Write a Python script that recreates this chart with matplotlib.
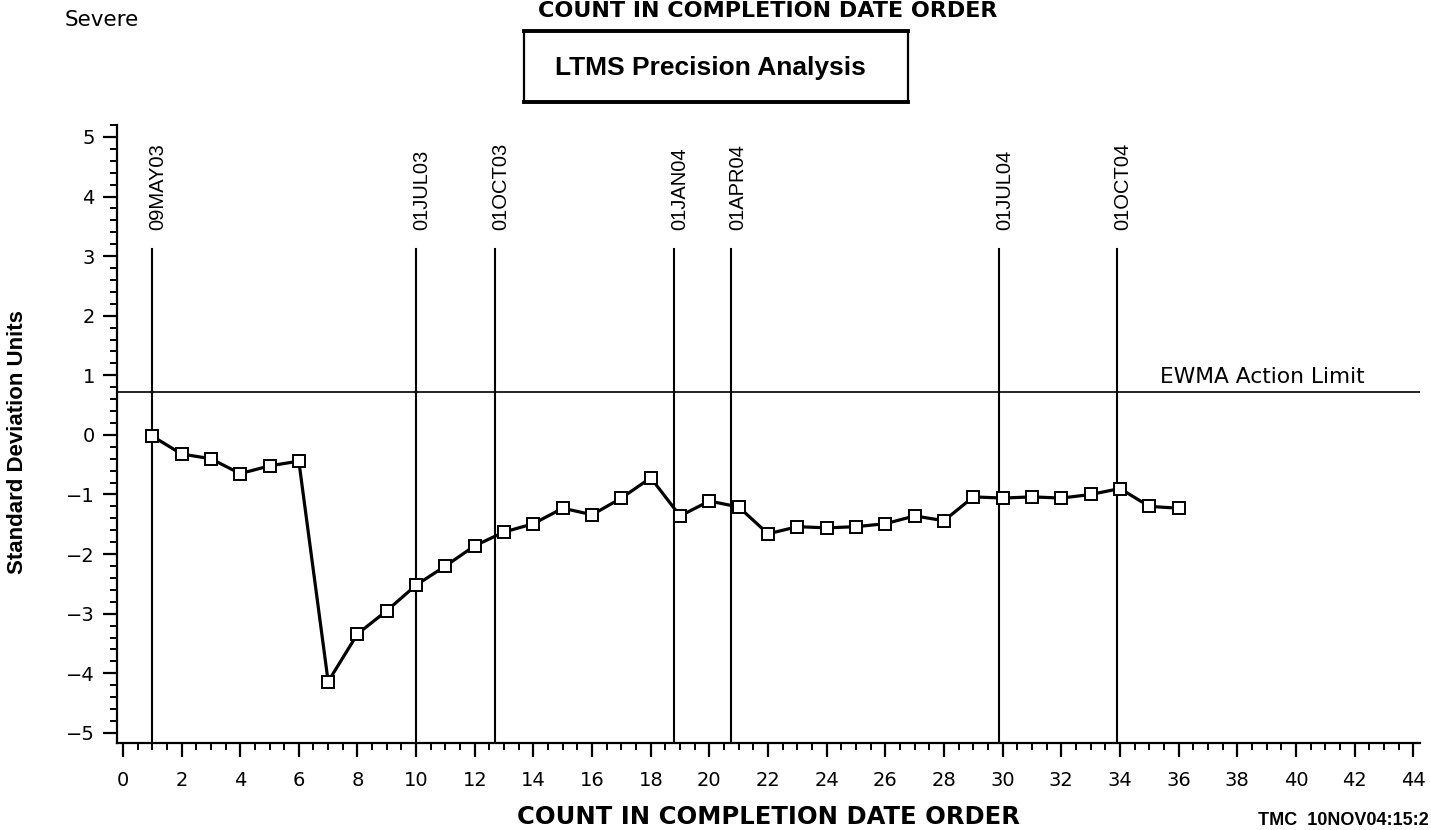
import matplotlib
matplotlib.use("Agg")
import matplotlib.pyplot as plt
from matplotlib.ticker import MultipleLocator
from matplotlib.patches import Rectangle
from matplotlib.lines import Line2D

# ---- data ----
counts = list(range(1, 37))
sd_units = [-0.02, -0.32, -0.40, -0.65, -0.52, -0.44, -4.14, -3.34, -2.95, -2.52,
            -2.20, -1.86, -1.63, -1.49, -1.23, -1.34, -1.06, -0.72, -1.36, -1.11,
            -1.21, -1.66, -1.54, -1.56, -1.54, -1.49, -1.36, -1.44, -1.04, -1.06,
            -1.04, -1.06, -1.00, -0.90, -1.20, -1.23]
date_labels = ["09MAY03", "01JUL03", "01OCT03", "01JAN04", "01APR04", "01JUL04", "01OCT04"]
date_positions = [1.0, 10.0, 12.7, 18.8, 20.75, 29.86, 33.9]
action_limit = 0.72
action_label = "EWMA Action Limit"

NARROW = ['Liberation Sans Narrow', 'Liberation Sans', 'DejaVu Sans']
BOLD = ['Liberation Sans', 'DejaVu Sans']
WIDEBOLD = ['DejaVu Sans']
plt.rcParams['font.family'] = ['DejaVu Sans']

W, H = 1431, 830
fig = plt.figure(figsize=(W / 100, H / 100), dpi=100)
ax = fig.add_axes([117 / W, (H - 743) / H, (1420 - 117) / W, (743 - 125) / H])

ax.set_xlim(-0.2, 44.23)
ax.set_ylim(-5.17, 5.2)

# date reference lines
for pos, lab in zip(date_positions, date_labels):
    ax.plot([pos, pos], [-5.17, 3.12], color='black', lw=1.5, zorder=2)
    ax.text(pos + 0.2, 3.44, lab, rotation=90, ha='center', va='bottom',
            family=NARROW, fontsize=14.5)

# action limit
ax.axhline(action_limit, color='black', lw=1.2, zorder=2)
ax.text(35.35, action_limit + 0.15, action_label, ha='left', va='baseline', fontsize=15.7)

# data
ax.plot(counts, sd_units, color='black', lw=2.3, marker='s', ms=9,
        mfc='white', mec='black', mew=1.4, zorder=4)

for s in ['top', 'right']:
    ax.spines[s].set_visible(False)
for s in ['left', 'bottom']:
    ax.spines[s].set_linewidth(1.6)

ax.xaxis.set_major_locator(MultipleLocator(2))
ax.xaxis.set_minor_locator(MultipleLocator(0.5))
ax.yaxis.set_major_locator(MultipleLocator(1))
ax.yaxis.set_minor_locator(MultipleLocator(0.2))
ax.tick_params(axis='both', which='major', direction='out', length=10, width=1.6, labelsize=14)
ax.tick_params(axis='both', which='minor', direction='out', length=5, width=1.4)
ax.tick_params(axis='x', which='major', pad=10)
ax.tick_params(axis='y', which='major', pad=6)

# labels
fig.text(18 / W, 1 - 442 / H, "Standard Deviation Units", rotation=90, ha='center', va='center',
         family=NARROW, fontweight='bold', fontsize=16)
fig.text(768 / W, 1 - 817 / H, "COUNT IN COMPLETION DATE ORDER", ha='center', va='center',
         family=WIDEBOLD, fontweight='bold', fontsize=17.5)
fig.text(768 / W, 1 - 1 / H, "COUNT IN COMPLETION DATE ORDER", ha='center', va='top',
         family=WIDEBOLD, fontweight='bold', fontsize=16)
fig.text(65 / W, 1 - 20 / H, "Severe", ha='left', va='center', fontsize=15.5)
fig.text(1429 / W, 1 - 829 / H, "TMC  10NOV04:15:2", ha='right', va='bottom',
         family=BOLD, fontweight='bold', fontsize=13)

# title box
fig.patches.append(Rectangle((524 / W, 1 - 102 / H), (908 - 524) / W, (102 - 31) / H,
                             transform=fig.transFigure, fill=False, lw=1.6, ec='black'))
for yy in (31, 102):
    fig.lines.append(Line2D([524 / W, 908 / W], [1 - yy / H, 1 - yy / H],
                            transform=fig.transFigure, color='black', lw=2.8))
fig.text(710 / W, 1 - 68 / H, "LTMS Precision Analysis", ha='center', va='center',
         family=NARROW, fontweight='bold', fontsize=19)

fig.savefig("out.png", dpi=100)
